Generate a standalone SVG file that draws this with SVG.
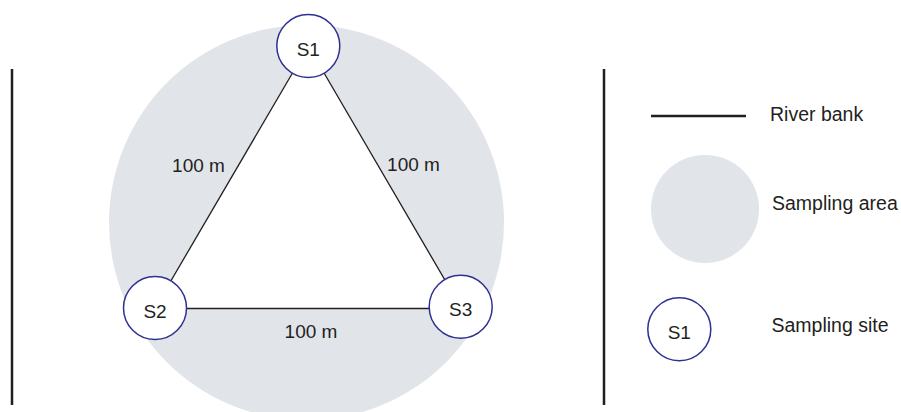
<svg xmlns="http://www.w3.org/2000/svg" width="901" height="412" viewBox="0 0 901 412">
<style>
text{font-family:"Liberation Sans",Arial,sans-serif;fill:#231f20}
.site{fill:#ffffff;stroke:#2e3192;stroke-width:1.5}
.lbl{font-size:19px}
.leg{font-size:19.5px}
.edge{stroke:#231f20;stroke-width:1.3;fill:none}
.bank{stroke:#231f20;stroke-width:2.5}
.area{fill:#e1e4e9}
</style>
<rect width="901" height="412" fill="#ffffff"/>
<g id="river-bank-left"><line class="bank" x1="12" y1="69" x2="12" y2="405"/></g>
<g id="river-bank-right"><line class="bank" x1="604" y1="69" x2="604" y2="405"/></g>
<g id="sampling-area"><circle class="area" cx="306.5" cy="222.5" r="197.5"/><polygon points="308.3,46 155,308.5 460.7,308.5" fill="#ffffff"/></g>
<g id="connectors">
<line class="edge" x1="308.3" y1="46" x2="155" y2="308"/>
<line class="edge" x1="308.3" y1="46" x2="460.7" y2="307"/>
<line class="edge" x1="155" y1="308.5" x2="460.7" y2="308.5"/>
<text class="lbl" x="198.5" y="172" text-anchor="middle">100 m</text>
<text class="lbl" x="413.5" y="170.5" text-anchor="middle">100 m</text>
<text class="lbl" x="311" y="338" text-anchor="middle">100 m</text>
</g>
<g id="S1"><circle class="site" cx="308.3" cy="46" r="31.5"/><text class="lbl" x="308.3" y="55.5" text-anchor="middle">S1</text></g>
<g id="S2"><circle class="site" cx="155" cy="308" r="31.5"/><text class="lbl" x="155" y="318" text-anchor="middle">S2</text></g>
<g id="S3"><circle class="site" cx="460.7" cy="306.7" r="31.5"/><text class="lbl" x="460.7" y="315.7" text-anchor="middle">S3</text></g>
<g id="legend">
<g id="legend-river-bank"><line class="bank" x1="651" y1="116" x2="746" y2="116"/><text class="leg" x="770" y="121">River bank</text></g>
<g id="legend-sampling-area"><circle class="area" cx="705" cy="209" r="54"/><text class="leg" x="772" y="210">Sampling area</text></g>
<g id="legend-sampling-site"><circle class="site" cx="679.3" cy="329.3" r="31.5"/><text class="lbl" x="679.3" y="339" text-anchor="middle">S1</text><text class="leg" x="771.5" y="331.5">Sampling site</text></g>
</g>
</svg>
